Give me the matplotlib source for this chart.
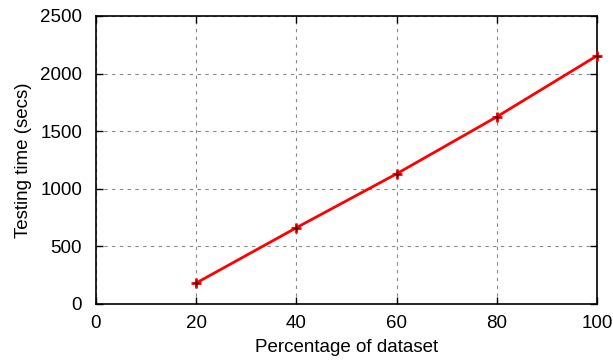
import matplotlib
matplotlib.use("Agg")
import matplotlib.pyplot as plt

x_pct = [20, 40, 60, 80, 100]
test_time = [182, 662, 1130, 1625, 2155]
x_ticks = [0, 20, 40, 60, 80, 100]
y_ticks = [0, 500, 1000, 1500, 2000, 2500]

plt.rcParams['font.family'] = ['Liberation Sans', 'DejaVu Sans']
fig = plt.figure(figsize=(6.13, 3.6), dpi=100)
ax = fig.add_axes([96/613, 1-304/360, (597-96)/613, (304-16)/360])
ax.plot(x_pct, test_time, color='#ff0000', lw=2, zorder=3, clip_on=False)
ax.plot(x_pct, test_time, ls='none', marker='+', ms=7, mew=2, color='#ff0000', zorder=4, clip_on=False)
ax.plot(x_pct, test_time, ls='none', marker='+', ms=5, mew=1, color='#550000', zorder=5, clip_on=False)
ax.set_xlim(0, 100)
ax.set_ylim(0, 2500)
ax.set_xticks(x_ticks)
ax.set_yticks(y_ticks)
ax.grid(True, ls=(0, (3, 4)), color='#888888', lw=0.8)
ax.tick_params(direction='in', top=True, right=True, length=5, labelsize=13.5, width=1)
ax.tick_params(axis='x', pad=8)
ax.tick_params(axis='y', pad=10)
for s in ax.spines.values():
    s.set_linewidth(1.2)
ax.set_xlabel('Percentage of dataset', fontsize=13.5, labelpad=5)
ax.set_ylabel('Testing time (secs)', fontsize=13.5, labelpad=6)
fig.savefig('out.png', dpi=100)
